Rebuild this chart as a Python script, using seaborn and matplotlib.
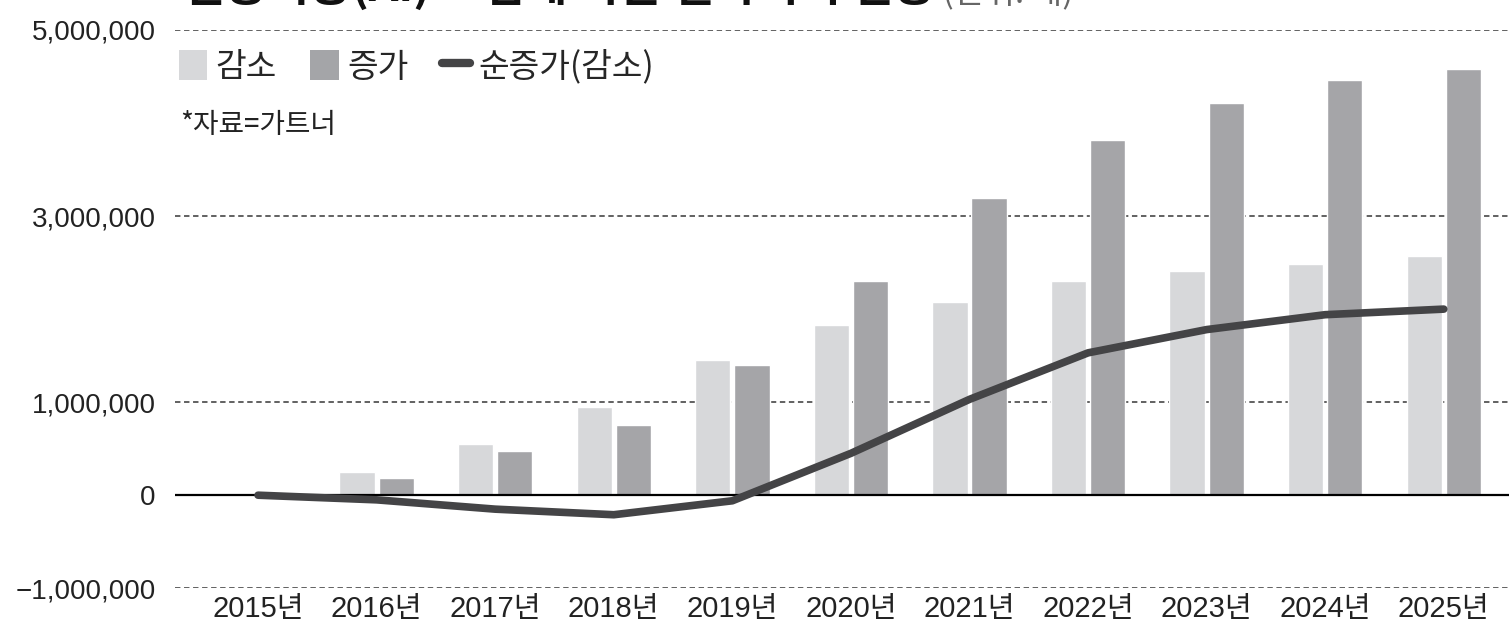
import numpy as np
import pandas as pd
import matplotlib
matplotlib.use("Agg")
import matplotlib.pyplot as plt
from matplotlib import font_manager
from matplotlib.patches import Patch
from matplotlib.lines import Line2D
import seaborn as sns

# values (unit: jobs)
years = ["2015년", "2016년", "2017년", "2018년", "2019년", "2020년",
         "2021년", "2022년", "2023년", "2024년", "2025년"]
decrease = [0, 250000, 550000, 950000, 1450000, 1830000,
            2080000, 2300000, 2410000, 2480000, 2570000]
increase = [0, 190000, 480000, 750000, 1400000, 2300000,
            3190000, 3820000, 4220000, 4460000, 4580000]
net_change = [0, -50000, -150000, -210000, -60000, 450000,
              1030000, 1530000, 1780000, 1940000, 2000000]
y_ticks = [5000000, 3000000, 1000000, 0, -1000000]
y_tick_labels = ["5,000,000", "3,000,000", "1,000,000", "0", "\u22121,000,000"]

C_DEC = "#d7d8da"
C_INC = "#a4a5a8"
C_NET = "#444446"

sns.set_style("white")
installed = {f.name for f in font_manager.fontManager.ttflist}
num_font = "Liberation Sans Narrow" if "Liberation Sans Narrow" in installed else "Liberation Sans"
KR = ["Noto Sans CJK KR", "DejaVu Sans"]
plt.rcParams["font.family"] = [num_font, "Noto Sans CJK KR", "DejaVu Sans"]
tick_size = 25 if num_font.endswith("Narrow") else 20

df = pd.DataFrame({
    "year": years * 2,
    "kind": ["감소"] * len(years) + ["증가"] * len(years),
    "value": decrease + increase,
})

fig = plt.figure(figsize=(15.09, 6.38), dpi=100)
ax = fig.add_axes([0.116, 0.078, 0.884, 0.875])

# dashed gridlines (behind bars), solid zero line
for t in y_ticks:
    if t == 0:
        continue
    ax.axhline(t, color="#555555", lw=1.3, ls=(0, (3, 2)), zorder=0)

sns.barplot(data=df, x="year", y="value", hue="kind",
            palette={"감소": C_DEC, "증가": C_INC},
            width=0.66, gap=0.1, ax=ax, zorder=2, legend=False)

ax.axhline(0, color="black", lw=1.6, zorder=3)

sns.lineplot(x=np.arange(len(years)), y=net_change, ax=ax, color=C_NET,
             lw=5.5, zorder=4, solid_capstyle="round", solid_joinstyle="round")

ax.set_ylim(-1000000, 5000000)
ax.set_xlim(-0.7, 10.55)
ax.set_yticks(y_ticks)
ax.set_yticklabels(y_tick_labels, fontsize=tick_size, color="#222222")
ax.set_xticks(range(len(years)))
ax.set_xticklabels(years, fontsize=tick_size + 1, color="#222222")
ax.tick_params(axis="y", length=0, pad=14)
ax.tick_params(axis="x", length=0, pad=5)
ax.set_xlabel("")
ax.set_ylabel("")
sns.despine(ax=ax, left=True, bottom=True)

handles = [
    Patch(facecolor=C_DEC, edgecolor="none", label="감소"),
    Patch(facecolor=C_INC, edgecolor="none", label="증가"),
    Line2D([0], [0], color=C_NET, lw=6, solid_capstyle="round", label="순증가(감소)"),
]
ax.legend(handles=handles, loc="upper left", bbox_to_anchor=(0.003, 0.965),
          ncol=3, frameon=False, handlelength=0.85,
          handleheight=1.0, handletextpad=0.25, columnspacing=1.0,
          borderaxespad=0, borderpad=0, prop={"family": KR, "size": 24})

ax.text(0.004, 0.83, "*자료=가트너", transform=ax.transAxes,
        fontsize=20, color="#222222", va="center", ha="left", family=KR)

# title, clipped at the top edge as in the source image
title = fig.text(0.121, 1.02, "인공지능(AI) 도입에 따른 일자리의 변동",
                 fontsize=33, fontweight="bold", color="#111111",
                 va="center", ha="left", family=KR)
ax.annotate(" (단위: 개)", xy=(1, 0), xycoords=title, fontsize=24,
            color="#666666", va="bottom", ha="left", family=KR,
            annotation_clip=False)

fig.savefig("out.png", dpi=100)
